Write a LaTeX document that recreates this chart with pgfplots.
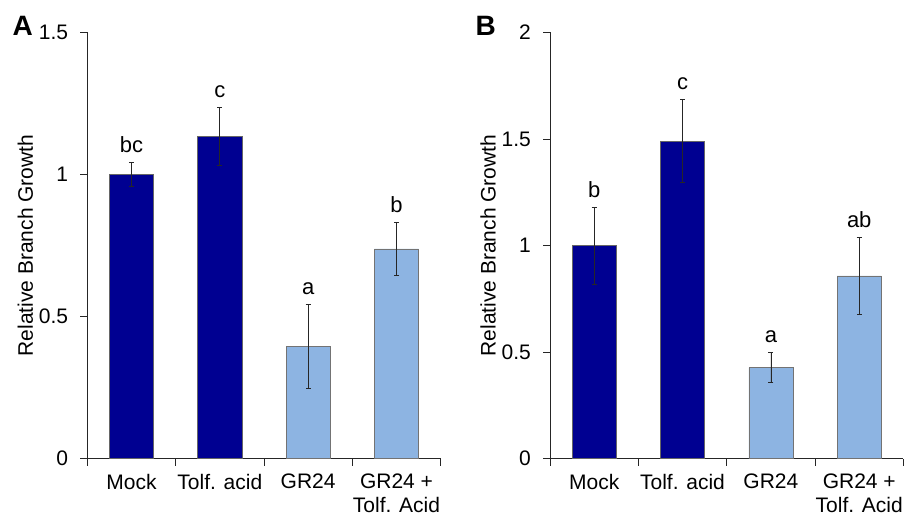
\documentclass[border=0pt]{standalone}
\usepackage{fontspec}
\setmainfont{Liberation Sans}
\usepackage{pgfplots}
\pgfplotsset{compat=1.18}
\definecolor{darkbar}{RGB}{0,0,145}
\definecolor{lightbar}{RGB}{141,180,226}

\pgfplotsset{
  branch/.style={
    scale only axis, width=353.4pt, height=426.4pt,
    anchor=south west, clip=false,
    axis x line=bottom, axis y line=left,
    axis line style={-, line width=0.8pt, black!85},
    xmin=-0.5, xmax=3.5, ymin=0,
    ybar, bar width=0.5, bar shift=0pt,
    xtick={0,1,2,3},
    xticklabels={Mock, Tolf. acid, GR24, GR24 +\\Tolf. Acid},
    xticklabel style={align=center, anchor=north, inner sep=0pt, yshift=-8pt,
      font=\fontsize{21}{23.8}\selectfont},
    major x tick style={draw=none},
    minor xtick={-0.5,0.5,1.5,2.5,3.5},
    tick align=outside, major tick length=7pt, minor tick length=7pt,
    tick style={black!85, line width=0.8pt},
    yticklabel style={anchor=east, inner sep=0pt, xshift=-12pt},
    /pgf/number format/assume math mode=true,
    ylabel={Relative Branch Growth},
    ylabel style={at={(axis description cs:-0.175,0.5)}, anchor=center},
  },
  errs/.style={
    error bars/y dir=both, error bars/y explicit,
    error bars/error mark={-},
    error bars/error bar style={black!85, line width=0.7pt},
    error bars/error mark options={rotate=90, black!85, line width=0.7pt, mark size=2.5pt},
  },
  darkplot/.style={errs, fill=darkbar, draw=black!60, line width=0.5pt},
  lightplot/.style={errs, fill=lightbar, draw=black!55, line width=0.5pt},
}

\begin{document}
\begin{tikzpicture}[x=1pt, y=1pt, font=\fontsize{21}{24}\selectfont]
\useasboundingbox (0,0) rectangle (904,515);

% Panel A
\begin{axis}[branch, at={(87.3pt,56.3pt)}, ymax=1.5, ytick={0,0.5,1,1.5}]
\addplot[darkplot] coordinates {(0,1.000) +- (0,0.041) (1,1.133) +- (0,0.102)};
\addplot[lightplot] coordinates {(2,0.394) +- (0,0.148) (3,0.738) +- (0,0.094)};
\node[anchor=base, yshift=10pt, font=\fontsize{22}{24}\selectfont] at (axis cs:0,1.041) {bc};
\node[anchor=base, yshift=10pt, font=\fontsize{22}{24}\selectfont] at (axis cs:1,1.235) {c};
\node[anchor=base, yshift=10pt, font=\fontsize{22}{24}\selectfont] at (axis cs:2,0.542) {a};
\node[anchor=base, yshift=10pt, font=\fontsize{22}{24}\selectfont] at (axis cs:3,0.832) {b};
\end{axis}
\node[anchor=base west, font=\fontsize{28}{30}\bfseries\selectfont] at (9,479) {A};

% Panel B
\begin{axis}[branch, at={(550pt,56.3pt)}, ymax=2, ytick={0,0.5,1,1.5,2}]
\addplot[darkplot] coordinates {(0,0.999) +- (0,0.180) (1,1.490) +- (0,0.194)};
\addplot[lightplot] coordinates {(2,0.427) +- (0,0.070) (3,0.857) +- (0,0.180)};
\node[anchor=base, yshift=10pt, font=\fontsize{22}{24}\selectfont] at (axis cs:0,1.179) {b};
\node[anchor=base, yshift=10pt, font=\fontsize{22}{24}\selectfont] at (axis cs:1,1.684) {c};
\node[anchor=base, yshift=10pt, font=\fontsize{22}{24}\selectfont] at (axis cs:2,0.497) {a};
\node[anchor=base, yshift=10pt, font=\fontsize{22}{24}\selectfont] at (axis cs:3,1.037) {ab};
\end{axis}
\node[anchor=base west, font=\fontsize{28}{30}\bfseries\selectfont] at (472,479) {B};
\end{tikzpicture}
\end{document}
